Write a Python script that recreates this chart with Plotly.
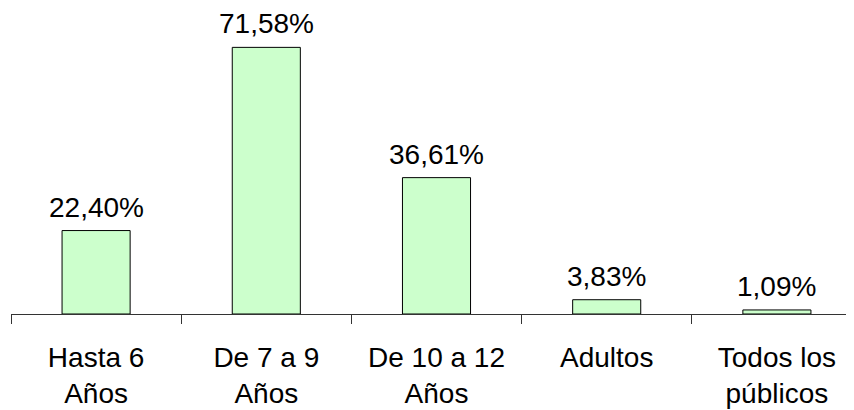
import plotly.graph_objects as go

categories = ["Hasta 6<br>Años", "De 7 a 9<br>Años", "De 10 a 12<br>Años", "Adultos", "Todos los<br>públicos"]
values = [22.40, 71.58, 36.61, 3.83, 1.09]
labels = ["22,40%", "71,58%", "36,61%", "3,83%", "1,09%"]

FONT = "Liberation Sans, Arial, sans-serif"

fig = go.Figure()
fig.add_trace(go.Bar(
    x=categories, y=values, width=0.4,
    marker=dict(color="#CCFFCC", line=dict(color="black", width=1)),
    hoverinfo="skip",
))
for c, v, t in zip(categories, values, labels):
    fig.add_annotation(x=c, y=v, text=t, showarrow=False, yanchor="bottom",
                       yshift=7, borderpad=0, font=dict(family=FONT, size=28, color="black"))

fig.update_layout(
    width=854, height=410,
    margin=dict(l=3, r=8, t=8, b=104),
    paper_bgcolor="white", plot_bgcolor="white",
    showlegend=False,
    font=dict(family=FONT, size=28, color="black"),
    xaxis=dict(type="category", range=[-0.5, 4.453], showline=True, linecolor="#333333",
               linewidth=1, ticks="outside", tickson="boundaries", ticklen=9,
               tickcolor="#333333", showgrid=False, ticklabelstandoff=18, automargin=False,
               tickfont=dict(family=FONT, size=28, color="black")),
    yaxis=dict(range=[0, 80], visible=False, showgrid=False, zeroline=False),
)
fig.write_html("out.html")
